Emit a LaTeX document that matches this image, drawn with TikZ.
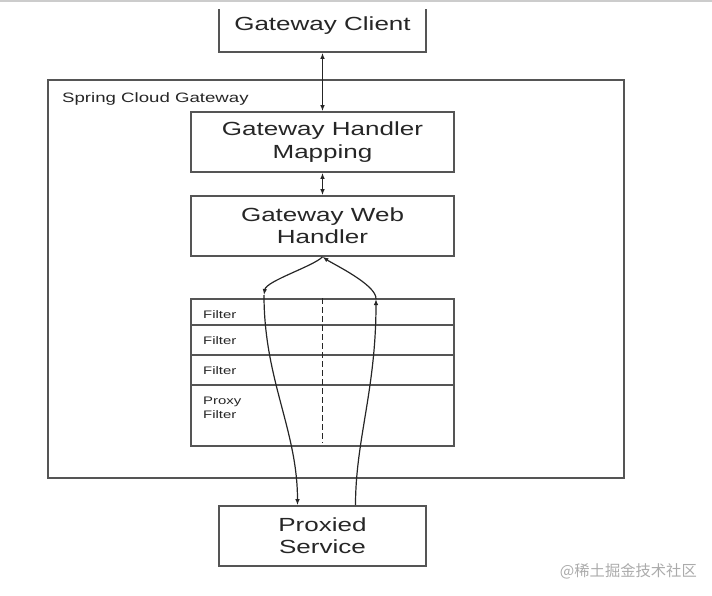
\documentclass[tikz,border=0pt]{standalone}
\usepackage{fontspec}
\setmainfont{Liberation Sans}
\newfontfamily\diagfont{Liberation Sans}[FakeStretch=1.37]
\newfontfamily\cjk{Noto Sans CJK SC}
\usepackage{xcolor}
\usetikzlibrary{arrows.meta,positioning,calc}
\definecolor{edge}{HTML}{555555}
\definecolor{ink}{HTML}{262626}
\definecolor{wmgray}{HTML}{ABABAB}

\begin{document}
\begin{tikzpicture}[x=1pt, y=-1pt,
    box/.style={rectangle, draw=edge, line width=1.6pt, text=ink, align=center, font=\diagfont\fontsize{19}{22.4}\selectfont},
    flabel/.style={anchor=base west, inner sep=0pt, text=ink, font=\diagfont\fontsize{10.9}{13}\selectfont},
    arrow/.style={-{Latex[length=6pt,width=4.5pt]}, line width=1.2pt, draw=ink},
    darrow/.style={{Latex[length=6pt,width=4.5pt]}-{Latex[length=6pt,width=4.5pt]}, line width=1.2pt, draw=ink}
]
\useasboundingbox (0,0) rectangle (712,596);
\fill[gray!40] (0,0) rectangle (712,2.5);
\begin{scope}
\clip (0,10) rectangle (712,596);
\node[box, minimum width=207pt, minimum height=53pt] (client) at (322.5,25.5) {Gateway Client};
\end{scope}
\node[box, minimum width=576pt, minimum height=398pt] (gateway) at (336,279) {};
\node[anchor=base west, inner sep=0pt, text=ink, font=\diagfont\fontsize{13.6}{16}\selectfont] (gwlabel) at (62,103) {Spring Cloud Gateway};
\node[box, minimum width=263pt, minimum height=60pt] (mapping) at (322.5,142) {Gateway Handler\\Mapping};
\node[box, minimum width=263pt, minimum height=60pt] (handler) at (322.5,226) {Gateway Web\\Handler};
\node[box, minimum width=263pt, minimum height=146.5pt] (filters) at (322.5,372.5) {};
\foreach \y in {325,355,385} {\draw[draw=edge, line width=1.6pt] (filters.west |- 0,\y) -- (filters.east |- 0,\y);}
\draw[draw=ink, line width=1pt, dash pattern=on 6pt off 3pt] (filters.north) -- ($(filters.south)+(0,-4)$);
\foreach \y/\t [count=\i] in {318/Filter, 344/Filter, 374.3/Filter, 404.5/Proxy, 418/Filter} {\node[flabel] (f\i) at (203,\y) {\t};}
\node[box, minimum width=207pt, minimum height=60pt] (proxied) at (322.5,536) {Proxied\\Service};
\coordinate (lft) at (264,295);\coordinate (rgt) at (376,299);
\coordinate (pin) at ($(proxied.north)+(-25,0)$);\coordinate (pout) at ($(proxied.north)+(33,0)$);
\draw[darrow] (client.south) -- (mapping.north);
\draw[darrow] (mapping.south) -- (handler.north);
\draw[arrow] (handler.south) .. controls (314,266) and (266,281) .. (lft);
\draw[arrow] (lft) .. controls (264,380) and (297.5,430) .. (pin);
\draw[arrow] (pout) .. controls (355.5,440) and (376,390) .. (rgt);
\draw[arrow] (rgt) .. controls (377,285) and (333,264) .. (handler.south);
\node[font=\cjk\fontsize{15.3}{17}\selectfont, text=wmgray, anchor=east, inner sep=0pt] (watermark) at (697,571) {@稀土掘金技术社区};
\end{tikzpicture}
\end{document}
